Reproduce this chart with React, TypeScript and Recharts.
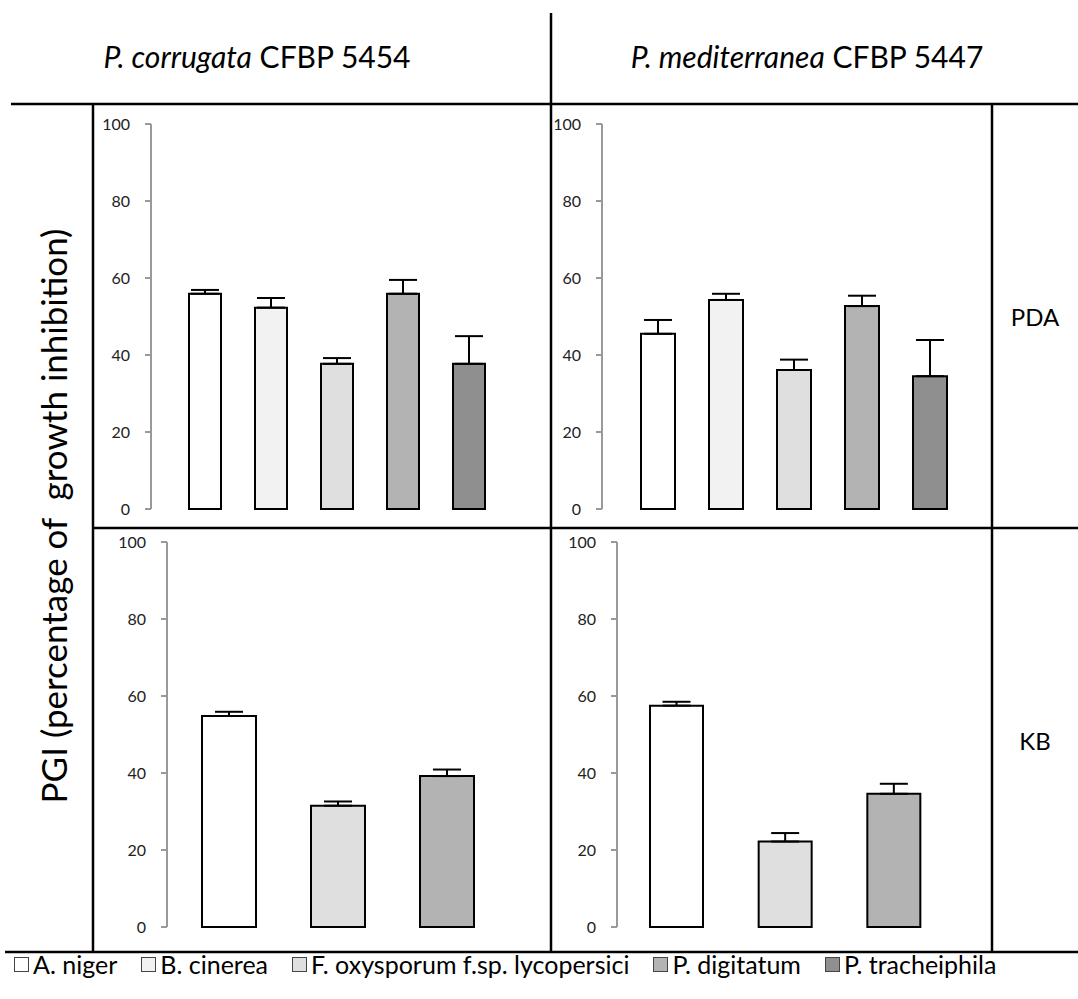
import React from 'react';
import { BarChart, Bar, XAxis, YAxis, ErrorBar, Cell } from 'recharts';

// ---- data ----
const strainNames = ['P. corrugata', 'P. mediterranea'];
const strainCodes = ['CFBP 5454', 'CFBP 5447'];
const mediaNames = ['PDA', 'KB'];
const fungi = ['A. niger', 'B. cinerea', 'F. oxysporum f.sp. lycopersici', 'P. digitatum', 'P. tracheiphila'];
const fungiColors = ['#ffffff', '#f2f2f2', '#dfdfdf', '#b3b3b3', '#8f8f8f'];
const yTicks = [0, 20, 40, 60, 80, 100];
const yLabel = 'PGI (percentage of  growth inhibition)';

const pdaCorrugataValues = [55.9, 52.3, 37.7, 55.9, 37.7];
const pdaCorrugataErrors = [1.0, 2.5, 1.5, 3.6, 7.2];
const pdaMediterraneaValues = [45.5, 54.3, 36.1, 52.7, 34.5];
const pdaMediterraneaErrors = [3.6, 1.6, 2.7, 2.7, 9.4];

const kbFungiIdx = [0, 2, 3];
const kbCorrugataValues = [54.8, 31.5, 39.2];
const kbCorrugataErrors = [1.1, 1.1, 1.7];
const kbMediterraneaValues = [57.5, 22.2, 34.6];
const kbMediterraneaErrors = [1.0, 2.2, 2.6];

const build = (idx: number[], values: number[], errors: number[]) =>
  idx.map((fi, i) => ({ name: fungi[fi], value: values[i], err: [0, errors[i]], color: fungiColors[fi] }));

const allIdx = [0, 1, 2, 3, 4];
const FONT = 'Lato, "Open Sans", sans-serif';

type PanelProps = {
  data: any[];
  left: number;
  top: number;
  width: number;
  height: number;
  axisOffset: number;
  marginTop: number;
  marginRight: number;
  marginBottom: number;
  padL: number;
  padR: number;
  barSize: number;
};

function Panel(p: PanelProps) {
  return (
    <div style={{ position: 'absolute', left: p.left, top: p.top, width: p.width, height: p.height }}>
      <BarChart
        width={p.width}
        height={p.height}
        data={p.data}
        margin={{ top: p.marginTop, right: p.marginRight, bottom: p.marginBottom, left: 0 }}
      >
        <YAxis
          width={p.axisOffset}
          domain={[0, 100]}
          ticks={yTicks}
          interval={0}
          tickSize={6}
          tickMargin={15}
          axisLine={{ stroke: '#999999', strokeWidth: 2 }}
          tickLine={{ stroke: '#999999', strokeWidth: 2 }}
          tick={{ fill: '#222222', fontSize: 16, fontFamily: FONT }}
        />
        <Bar dataKey="value" barSize={p.barSize} stroke="#000000" strokeWidth={2} isAnimationActive={false}>
          {p.data.map((d, i) => (
            <Cell key={i} fill={d.color} stroke="#000000" strokeWidth={2} />
          ))}
          <ErrorBar dataKey="err" width={14} stroke="#000000" strokeWidth={2} direction="y" />
        </Bar>
        <XAxis
          dataKey="name"
          tick={false}
          tickLine={false}
          height={0}
          axisLine={{ stroke: '#999999', strokeWidth: 2 }}
          padding={{ left: p.padL, right: p.padR }}
        />
      </BarChart>
    </div>
  );
}

export default function App() {
  const pdaCor = build(allIdx, pdaCorrugataValues, pdaCorrugataErrors);
  const pdaMed = build(allIdx, pdaMediterraneaValues, pdaMediterraneaErrors);
  const kbCor = build(kbFungiIdx, kbCorrugataValues, kbCorrugataErrors);
  const kbMed = build(kbFungiIdx, kbMediterraneaValues, kbMediterraneaErrors);

  return (
    <div style={{ position: 'absolute', left: 0, top: 0, width: 1078, height: 999, background: '#ffffff', fontFamily: FONT }}>
      <Panel data={pdaCor} left={93} top={104} width={458} height={424} axisOffset={58}
        marginTop={20} marginRight={30} marginBottom={19} padL={21} padR={19} barSize={32} />
      <Panel data={pdaMed} left={551} top={104} width={441} height={424} axisOffset={51}
        marginTop={20} marginRight={7} marginBottom={19} padL={22} padR={21} barSize={34} />
      <Panel data={kbCor} left={93} top={528} width={458} height={424} axisOffset={74}
        marginTop={14} marginRight={46} marginBottom={25} padL={7} padR={4} barSize={54} />
      <Panel data={kbMed} left={551} top={528} width={441} height={424} axisOffset={66}
        marginTop={14} marginRight={42} marginBottom={25} padL={5} padR={2} barSize={53} />

      <svg width={1078} height={999} style={{ position: 'absolute', left: 0, top: 0, pointerEvents: 'none' }}>
        <g stroke="#000000" strokeWidth={2.5}>
          <line x1={11} y1={104} x2={1078} y2={104} />
          <line x1={93} y1={528} x2={1078} y2={528} />
          <line x1={5} y1={952} x2={1078} y2={952} />
          <line x1={93} y1={104} x2={93} y2={952} />
          <line x1={551} y1={13} x2={551} y2={952} />
          <line x1={992} y1={104} x2={992} y2={952} />
        </g>
        {strainNames.map((s, i) => (
          <text key={s} x={i === 0 ? 257 : 807} y={68} textAnchor="middle" fontSize={30} fontFamily={FONT} fill="#000">
            <tspan fontStyle="italic">{s}</tspan>
            <tspan> {strainCodes[i]}</tspan>
          </text>
        ))}
        {mediaNames.map((m, i) => (
          <text key={m} x={1035} y={i === 0 ? 316 : 740} textAnchor="middle" dominantBaseline="central" fontSize={24} fontFamily={FONT} fill="#000">
            {m}
          </text>
        ))}
        <text
          x={53}
          y={516}
          transform="rotate(-90 53 516)"
          textAnchor="middle"
          dominantBaseline="central"
          fontSize={35}
          fontFamily={FONT}
          fill="#000"
          style={{ whiteSpace: 'pre' }}
        >
          {yLabel}
        </text>
      </svg>

      <div style={{ position: 'absolute', left: 14, top: 947, height: 34, display: 'flex', justifyContent: 'flex-start', alignItems: 'center', gap: 24 }}>
        {fungi.map((f, i) => (
          <div key={f} style={{ display: 'flex', alignItems: 'center', gap: 4 }}>
            <div style={{ width: 15, height: 15, boxSizing: 'border-box', border: '1.5px solid #444', background: fungiColors[i] }} />
            <span style={{ fontSize: 25, fontFamily: FONT, color: '#000', whiteSpace: 'nowrap' }}>{f}</span>
          </div>
        ))}
      </div>
    </div>
  );
}
